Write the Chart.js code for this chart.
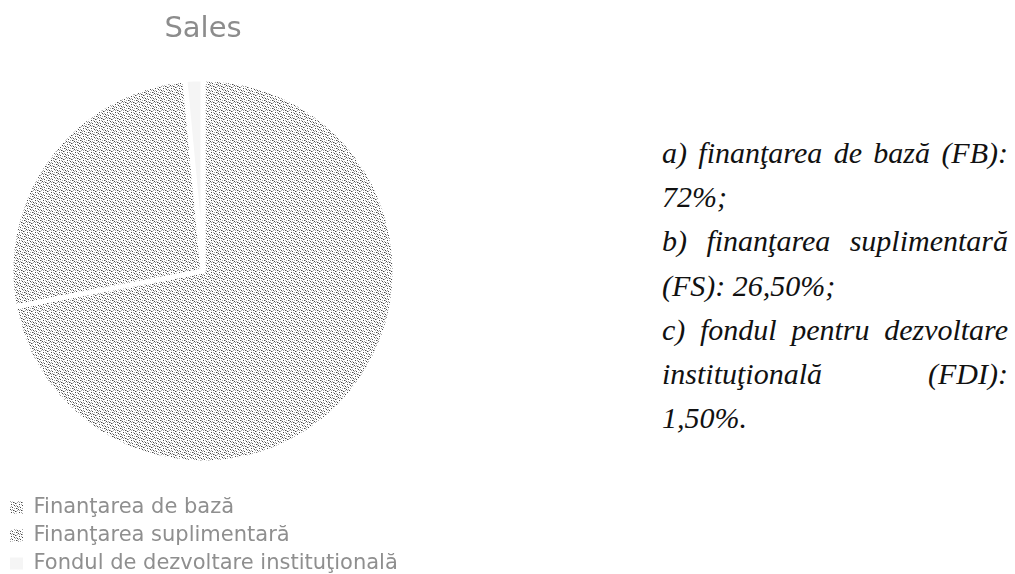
<!DOCTYPE html>
<html>
<head>
<meta charset="utf-8">
<script src="https://cdn.jsdelivr.net/npm/chart.js@4.4.1/dist/chart.umd.min.js"></script>
<style>
  html, body { margin: 0; padding: 0; background: #fff; overflow: hidden; width: 1015px; height: 574px; }
  #wrap { position: absolute; left: 3px; top: 0; width: 400px; height: 584px; }
  #notes { position: absolute; left: 662px; top: 131px; width: 346px;
           font-family: "Liberation Serif", "Times New Roman", serif; font-style: italic;
           font-size: 30px; line-height: 44.2px; color: #111; }
  #notes div { white-space: nowrap; }
  #notes .j { text-align: justify; text-align-last: justify; white-space: normal; }
</style>
</head>
<body>
<div id="wrap"><canvas id="c" width="400" height="584"></canvas></div>
<div id="notes">
  <div class="j">a) finanţarea de bază (FB):</div>
  <div>72%;</div>
  <div class="j">b) finanţarea suplimentară</div>
  <div>(FS): 26,50%;</div>
  <div class="j">c) fondul pentru dezvoltare</div>
  <div class="j">instituţională (FDI):</div>
  <div>1,50%.</div>
</div>
<script>
// ---- data ----
const chartTitle = "Sales";
const categories = ["Finanţarea de bază", "Finanţarea suplimentară", "Fondul de dezvoltare instituţională"];
const shares = [72, 26.5, 1.5];

// ---- stipple pattern (style only) ----
function stipple(dark, light) {
  const t = document.createElement('canvas');
  t.width = 8; t.height = 8;
  const g = t.getContext('2d');
  g.fillStyle = '#fff'; g.fillRect(0, 0, 8, 8);
  g.fillStyle = '#4a4a4a';
  dark.forEach(p => g.fillRect(p[0], p[1], 1, 1));
  g.fillStyle = '#a8a8a8';
  light.forEach(p => g.fillRect(p[0], p[1], 1, 1));
  return g.createPattern(t, 'repeat');
}
const ctx = document.getElementById('c').getContext('2d');
const dots = stipple(
  [[0,0],[3,1],[6,2],[1,3],[5,4],[2,6],[7,5],[4,7]],
  [[2,0],[5,1],[0,2],[7,3],[3,4],[1,5],[6,6],[4,2],[0,6],[5,7],[3,6],[6,4]]
);
const fills = [dots, dots, '#f5f5f5'];

new Chart(ctx, {
  type: 'pie',
  data: {
    labels: categories,
    datasets: [{
      data: shares,
      backgroundColor: fills,
      borderColor: '#ffffff',
      borderWidth: 5,
      radius: 192
    }]
  },
  options: {
    responsive: false,
    animation: false,
    devicePixelRatio: 1,
    layout: { padding: 0 },
    plugins: {
      tooltip: { enabled: false },
      title: {
        display: true,
        text: chartTitle,
        color: '#8c8c8c',
        font: { family: 'DejaVu Sans', size: 29, weight: 'normal' },
        padding: { top: 12, bottom: 5 }
      },
      legend: {
        position: 'bottom',
        align: 'start',
        labels: {
          color: '#8f8f8f',
          font: { family: 'DejaVu Sans', size: 21 },
          boxWidth: 13,
          boxHeight: 12,
          padding: 7,
          generateLabels(chart) {
            const items = Chart.overrides.pie.plugins.legend.labels.generateLabels(chart);
            items.forEach(it => { it.lineWidth = 0; it.strokeStyle = 'rgba(0,0,0,0)'; });
            return items;
          }
        }
      }
    }
  }
});
</script>
</body>
</html>
